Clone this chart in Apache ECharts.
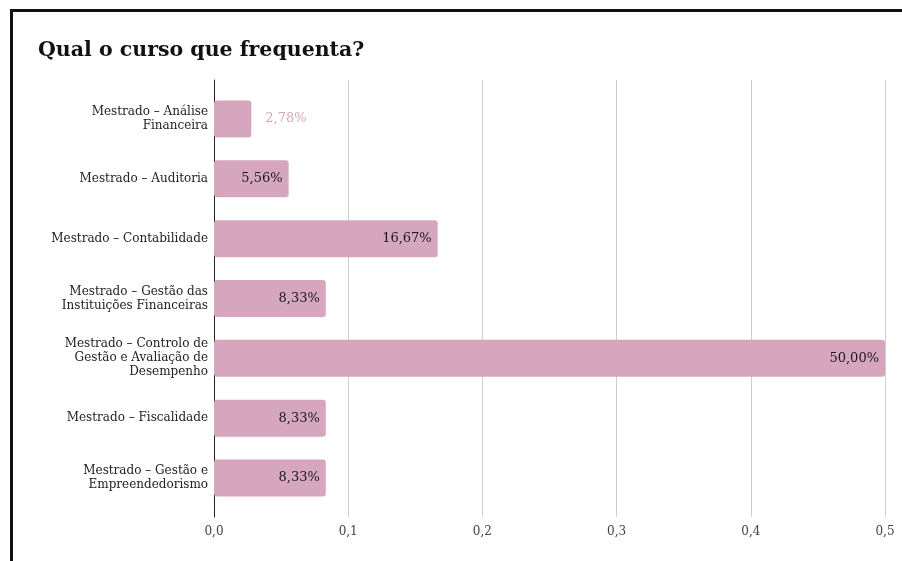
<!DOCTYPE html>
<html>
<head>
<meta charset="utf-8">
<script src="https://cdn.jsdelivr.net/npm/echarts@6/dist/echarts.min.js"></script>
<style>
html,body{margin:0;padding:0;background:#fff;}
#frame{position:absolute;left:10px;top:9px;width:1000px;height:700px;border-top:3px solid #111;border-left:3px solid #111;}
#chart{position:absolute;left:0;top:0;width:902px;height:561px;}
</style>
</head>
<body>
<div id="frame"></div>
<div id="chart"></div>
<script>
const categories = [
  "Mestrado – Análise\nFinanceira",
  "Mestrado – Auditoria",
  "Mestrado – Contabilidade",
  "Mestrado – Gestão das\nInstituições Financeiras",
  "Mestrado – Controlo de\nGestão e Avaliação de\nDesempenho",
  "Mestrado – Fiscalidade",
  "Mestrado – Gestão e\nEmpreendedorismo"
];
const values = [0.0278, 0.0556, 0.1667, 0.0833, 0.5, 0.0833, 0.0833];
const xTicks = [0, 0.1, 0.2, 0.3, 0.4, 0.5];

const FONT = "DejaVu Serif";
const fmt = v => (v*100).toFixed(2).replace('.', ',') + '%';

const data = values.map((v, i) => {
  const d = {value: v};
  if (v < 0.04) {
    d.label = {position: 'right', distance: 14, color: '#d5a6bd'};
  }
  return d;
});

const chart = echarts.init(document.getElementById('chart'));
chart.setOption({
  backgroundColor: 'transparent',
  animation: false,
  title: {
    text: 'Qual o curso que frequenta?',
    left: 33, top: 35,
    textStyle: {fontFamily: FONT, fontWeight: 'bold', fontSize: 20.5, color: '#111'}
  },
  grid: [
    {left: 214, right: 17, top: 89, bottom: 53},
    {left: 214, right: 17, top: 80, bottom: 44}
  ],
  xAxis: [
    {type: 'value', gridIndex: 0, min: 0, max: 0.5, interval: 0.1,
     axisLine: {show: false}, axisTick: {show: false}, axisLabel: {show: false}, splitLine: {show: false}},
    {type: 'value', gridIndex: 1, min: 0, max: 0.5, interval: 0.1,
     axisLine: {show: false}, axisTick: {show: false},
     splitLine: {show: true, lineStyle: {color: '#cccccc', width: 1}},
     axisLabel: {fontFamily: FONT, fontSize: 12, color: '#444', margin: 9,
       formatter: v => v.toFixed(1).replace('.', ',')}}
  ],
  yAxis: [
    {type: 'category', gridIndex: 0, data: categories, inverse: true,
     axisLine: {show: false}, axisTick: {show: false},
     axisLabel: {fontFamily: FONT, fontSize: 12, color: '#222', lineHeight: 14, margin: 6, align: 'right'}},
    {type: 'value', gridIndex: 1, min: 0, max: 1,
     axisLine: {show: true, lineStyle: {color: '#222', width: 1}},
     axisTick: {show: false}, axisLabel: {show: false}, splitLine: {show: false}}
  ],
  series: [{
    type: 'bar', xAxisIndex: 0, yAxisIndex: 0,
    data: data,
    barWidth: 37,
    itemStyle: {color: '#d5a6bd', borderRadius: 3},
    label: {show: true, position: 'insideRight', distance: 6,
      fontFamily: FONT, fontSize: 13, color: '#1a1a1a',
      formatter: p => fmt(p.value)}
  }]
});
</script>
</body>
</html>
